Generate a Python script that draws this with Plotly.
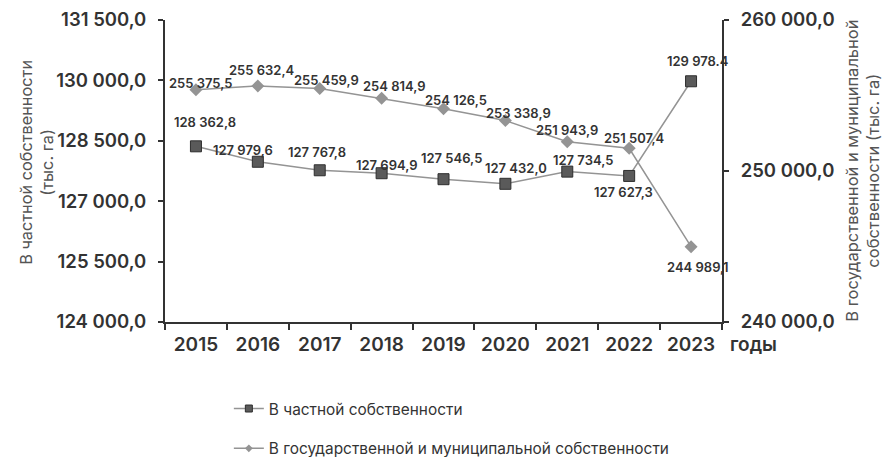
import plotly.graph_objects as go

years = ["2015", "2016", "2017", "2018", "2019", "2020", "2021", "2022", "2023"]
private = [128362.8, 127979.6, 127767.8, 127694.9, 127546.5, 127432.0, 127734.5, 127627.3, 129978.4]
state = [255375.5, 255632.4, 255459.9, 254814.9, 254126.5, 253338.9, 251943.9, 251507.4, 244989.1]
# decimal separator used in each printed label (the source prints the last private value with a dot)
private_sep = [",", ",", ",", ",", ",", ",", ",", ",", "."]
state_sep = [",", ",", ",", ",", ",", ",", ",", ",", ","]

left_ticks = [124000, 125500, 127000, 128500, 130000, 131500]
right_ticks = [240000, 250000, 260000]

name_private = "В частной собственности"
name_state = "В государственной и муниципальной собственности"
title_left = "В частной собственности<br>(тыс. га)"
title_right = "В государственной и муниципальной<br>собственности (тыс. га)"
x_unit = "годы"

# label offsets in pixels (dx, dy up)
private_off = [(9, 24), (-15, 12), (-3, 18), (5, 8), (8, 21), (11, 16), (16, 12), (-6, -16), (7, 20)]
state_off = [(5, 7), (4, 16), (7, 9), (13, 12), (12, 9), (13, 8), (0, 12), (5, 10), (7, -20)]


def fmt(v, sep):
    s = f"{v:,.1f}"
    ip, dp = s.split(".")
    return ip.replace(",", " ") + sep + dp


FONT = "Inter, 'Open Sans', sans-serif"
DARK = "#333333"
LINE = "#949494"

fig = go.Figure()
fig.add_trace(go.Scatter(
    x=years, y=private, name=name_private, mode="lines+markers", showlegend=False,
    line=dict(color=LINE, width=1.5),
    marker=dict(symbol="square", size=11, color="#5a5a5a", line=dict(color="#2e2e2e", width=1)),
))
fig.add_trace(go.Scatter(
    x=years, y=state, name=name_state, mode="lines+markers", yaxis="y2", showlegend=False,
    line=dict(color=LINE, width=1.5),
    marker=dict(symbol="diamond", size=10, color=LINE),
))
# legend entries (small symbols as in the source legend)
fig.add_trace(go.Scatter(
    x=[None], y=[None], name=name_private, mode="lines+markers", legend="legend",
    line=dict(color=LINE, width=1.5),
    marker=dict(symbol="square", size=7, color="#5a5a5a", line=dict(color="#2e2e2e", width=1)),
))
fig.add_trace(go.Scatter(
    x=[None], y=[None], name=name_state, mode="lines+markers", legend="legend2", yaxis="y2",
    line=dict(color=LINE, width=1.5),
    marker=dict(symbol="diamond", size=6, color=LINE),
))

ann = []
for i, v in enumerate(private):
    dx, dy = private_off[i]
    ann.append(dict(x=i, y=v, xref="x", yref="y", text=fmt(v, private_sep[i]), showarrow=False,
                    xshift=dx, yshift=dy, font=dict(family=FONT, size=13, color=DARK, weight=600)))
for i, v in enumerate(state):
    dx, dy = state_off[i]
    ann.append(dict(x=i, y=v, xref="x", yref="y2", text=fmt(v, state_sep[i]), showarrow=False,
                    xshift=dx, yshift=dy, font=dict(family=FONT, size=13, color=DARK, weight=600)))

ann.append(dict(x=1.056, y=-0.076, xref="paper", yref="paper", text=x_unit, showarrow=False,
                xanchor="center", yanchor="middle",
                font=dict(family=FONT, size=19, color=DARK, weight=600)))
ann.append(dict(x=-0.23, y=0.53, xref="paper", yref="paper", text=title_left, showarrow=False,
                xanchor="center", yanchor="middle",
                textangle=-90, font=dict(family=FONT, size=16.3, color="#555555")))
ann.append(dict(x=1.251, y=0.5, xref="paper", yref="paper", text=title_right, showarrow=False,
                xanchor="center", yanchor="middle",
                textangle=-90, font=dict(family=FONT, size=16.5, color="#555555")))

fig.update_layout(
    width=887, height=457,
    margin=dict(l=165, r=165, t=20, b=135, autoexpand=False),
    paper_bgcolor="white", plot_bgcolor="white",
    separators=", ",
    font=dict(family=FONT, color=DARK),
    showlegend=True,
    legend=dict(x=0.258, y=0.105, xref="container", yref="container", xanchor="left", yanchor="middle",
                itemwidth=30, font=dict(family=FONT, size=15.4, color=DARK), bgcolor="rgba(0,0,0,0)"),
    legend2=dict(x=0.258, y=0.018, xref="container", yref="container", xanchor="left", yanchor="middle",
                 itemwidth=30, font=dict(family=FONT, size=15.4, color=DARK), bgcolor="rgba(0,0,0,0)"),
    xaxis=dict(type="category", range=[-0.5, 8.5], tickson="boundaries", ticks="outside",
               ticklen=6, tickwidth=1.5, tickcolor=DARK, showline=True, linecolor=DARK, linewidth=2,
               showgrid=False, automargin=False, ticklabelstandoff=4,
               tickfont=dict(family=FONT, size=19, color=DARK, weight=600)),
    yaxis=dict(range=[124000, 131500], tickvals=left_ticks, tickformat=",.1f", ticks="outside",
               ticklen=5, tickwidth=1.5, tickcolor=DARK, showline=True, linecolor=DARK, linewidth=2,
               showgrid=False, zeroline=False, automargin=False, ticklabelstandoff=8,
               tickfont=dict(family=FONT, size=18.5, color=DARK, weight=600)),
    yaxis2=dict(range=[240000, 260000], tickvals=right_ticks, tickformat=",.1f", overlaying="y",
                side="right", ticks="outside", ticklen=5, tickwidth=1.5, tickcolor=DARK,
                showline=True, linecolor=DARK, linewidth=2, showgrid=False, zeroline=False,
                automargin=False, ticklabelstandoff=8,
                tickfont=dict(family=FONT, size=18.5, color=DARK, weight=600)),
    annotations=ann,
)

fig.write_html("out.html")
